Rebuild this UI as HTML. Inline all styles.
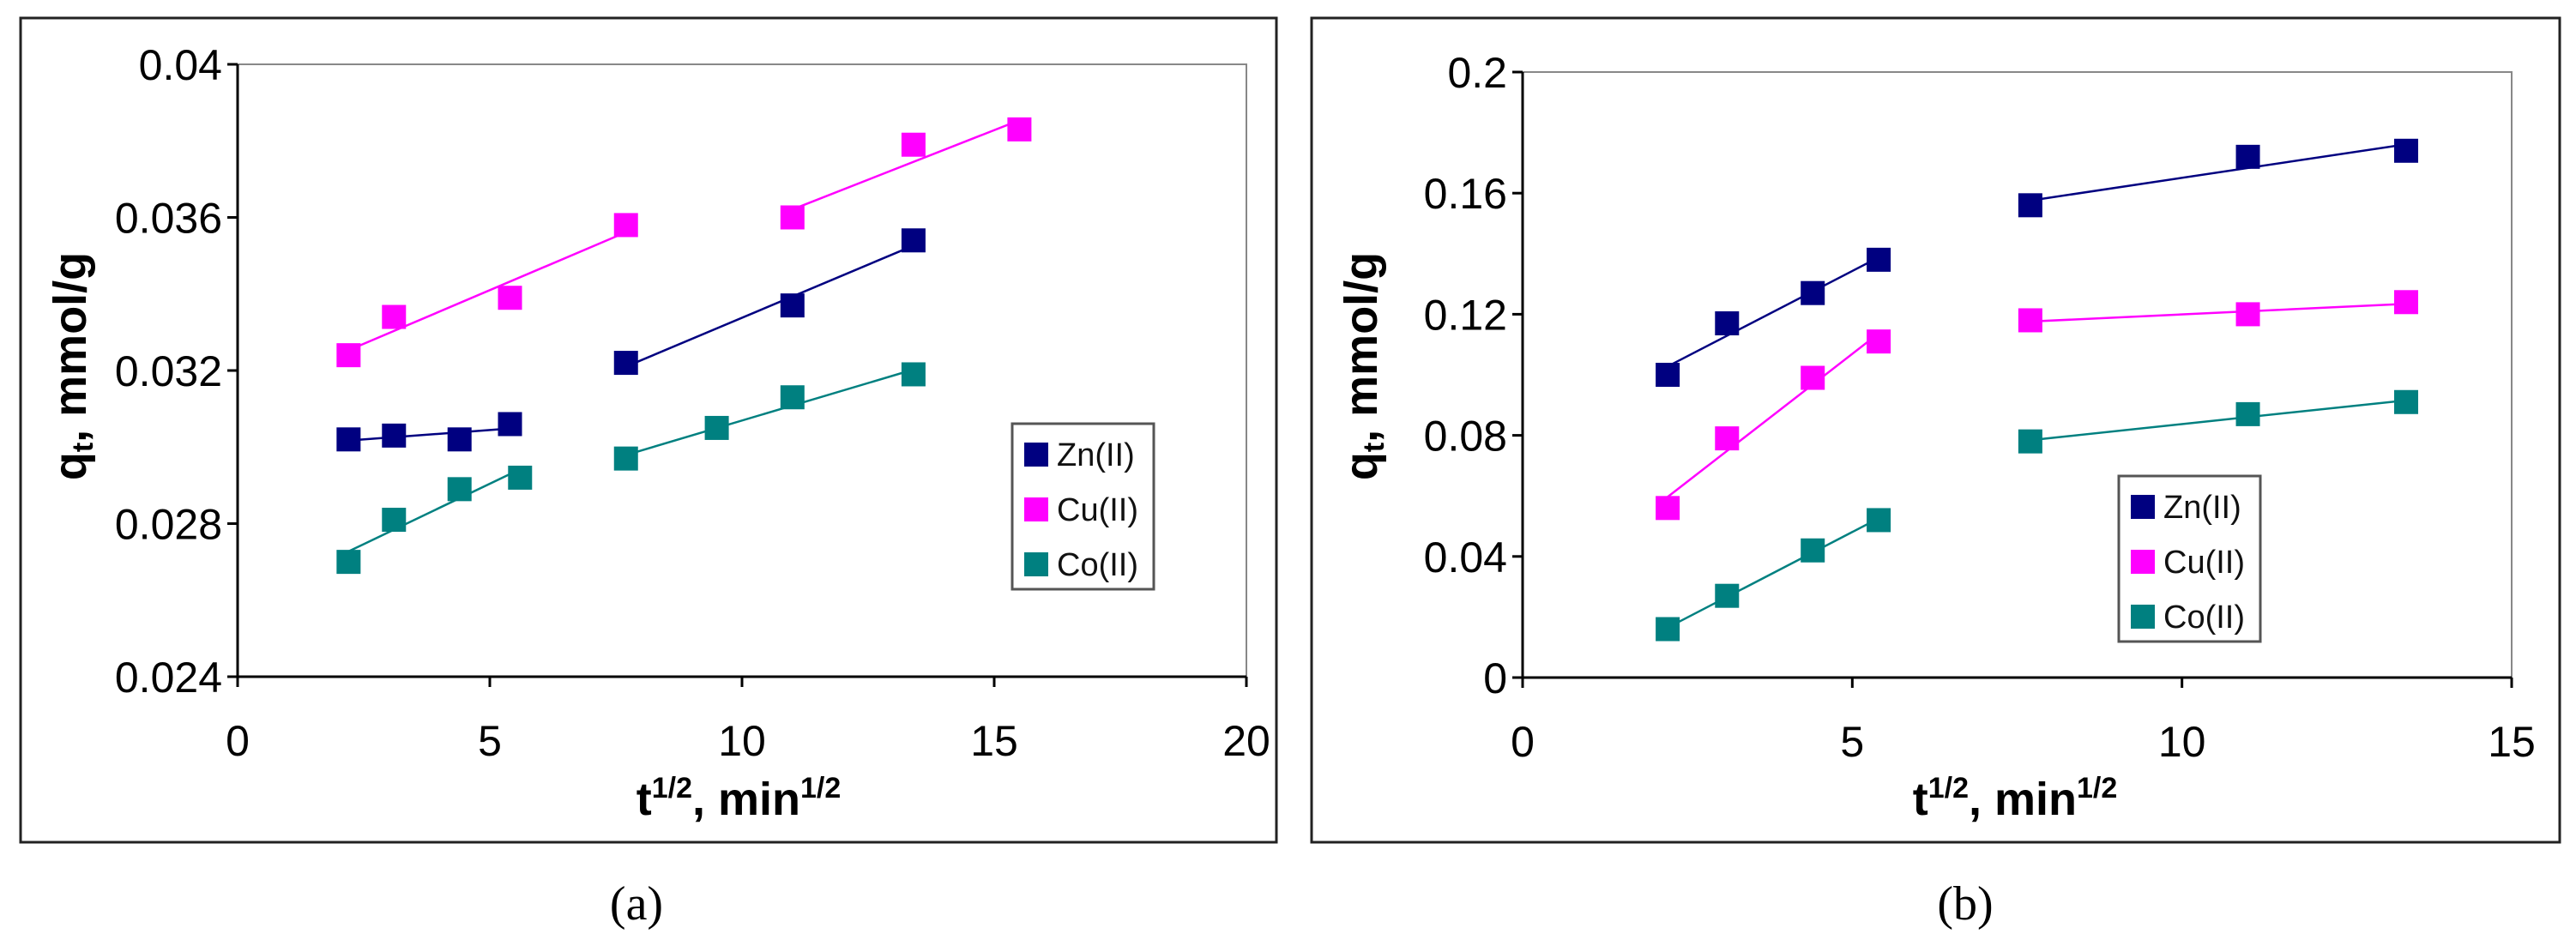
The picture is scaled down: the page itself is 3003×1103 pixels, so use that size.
<!DOCTYPE html>
<html><head><meta charset="utf-8"><style>
html,body{margin:0;padding:0;background:#fff;}
svg{display:block;font-family:"Liberation Sans",sans-serif;}
</style></head><body>
<svg id="svg" width="3003" height="1103" viewBox="0 0 3003 1103" xmlns="http://www.w3.org/2000/svg"></svg>
<script>
const seriesNames=["Zn(II)","Cu(II)","Co(II)"];
const colors=["#000080","#ff00ff","#008080"];
// Panel (a)
const aZnX1=[2.2,3.1,4.4,5.4], aZnY1=[0.0302,0.0303,0.0302,0.0306];
const aZnX2=[7.7,11,13.4], aZnY2=[0.0322,0.0337,0.0354];
const aCuX1=[2.2,3.1,5.4,7.7], aCuY1=[0.0324,0.0334,0.0339,0.0358];
const aCuX2=[11,13.4,15.5], aCuY2=[0.0360,0.0379,0.0383];
const aCoX1=[2.2,3.1,4.4,5.6], aCoY1=[0.0270,0.0281,0.0289,0.0292];
const aCoX2=[7.7,9.5,11,13.4], aCoY2=[0.0297,0.0305,0.0313,0.0319];
const aXTicks=[0,5,10,15,20];
const aYTicks=["0.024","0.028","0.032","0.036","0.04"];
// Panel (b)
const bZnX1=[2.2,3.1,4.4,5.4], bZnY1=[0.100,0.117,0.127,0.138];
const bZnX2=[7.7,11,13.4], bZnY2=[0.156,0.172,0.174];
const bCuX1=[2.2,3.1,4.4,5.4], bCuY1=[0.056,0.079,0.099,0.111];
const bCuX2=[7.7,11,13.4], bCuY2=[0.118,0.120,0.124];
const bCoX1=[2.2,3.1,4.4,5.4], bCoY1=[0.016,0.027,0.042,0.052];
const bCoX2=[7.7,11,13.4], bCoY2=[0.078,0.087,0.091];
const bXTicks=[0,5,10,15];
const bYTicks=["0","0.04","0.08","0.12","0.16","0.2"];

const svg=document.getElementById('svg');
const NS="http://www.w3.org/2000/svg";
function mk(tag,attrs,parent){const e=document.createElementNS(NS,tag);for(const k in attrs)e.setAttribute(k,attrs[k]);(parent||svg).appendChild(e);return e;}
function fit(xs,ys){const n=xs.length;let sx=0,sy=0,sxx=0,sxy=0;for(let i=0;i<n;i++){sx+=xs[i];sy+=ys[i];sxx+=xs[i]*xs[i];sxy+=xs[i]*ys[i];}const m=(n*sxy-sx*sy)/(n*sxx-sx*sx);return [m,(sy-m*sx)/n];}

function panel(P){
  const g=mk('g',{});
  
  
  const fr=mk('rect',{x:P.fx,y:21,width:P.fw,height:961,fill:'none',stroke:'#222','stroke-width':3},g);
  
  
  const X=v=>P.x0+(v-P.xmin)/(P.xmax-P.xmin)*(P.x1-P.x0);
  const Y=v=>P.y0-(v-P.ymin)/(P.ymax-P.ymin)*(P.y0-P.y1);
  const pa=mk('rect',{x:P.x0,y:P.y1,width:P.x1-P.x0,height:P.y0-P.y1,fill:'none',stroke:'#888','stroke-width':2},g);
  
  
  const ax=mk('line',{x1:P.x0,y1:P.y0,x2:P.x1,y2:P.y0,stroke:'#000','stroke-width':3},g);
  
  
  const ay=mk('line',{x1:P.x0,y1:P.y0,x2:P.x0,y2:P.y1,stroke:'#000','stroke-width':3},g);
  
  
  P.xt.forEach(t=>{
    mk('line',{x1:X(t),y1:P.y0,x2:X(t),y2:P.y0+12,stroke:'#000','stroke-width':3},g);
    const tx=mk('text',{x:X(t),y:P.y0+92,'text-anchor':'middle','font-size':50,fill:'#000'},g);
    tx.textContent=t;
    
    
  });
  P.yt.forEach(t=>{
    const v=parseFloat(t);
    mk('line',{x1:P.x0-12,y1:Y(v),x2:P.x0,y2:Y(v),stroke:'#000','stroke-width':3},g);
    const tx=mk('text',{x:P.x0-18,y:Y(v)+18,'text-anchor':'end','font-size':50,fill:'#000'},g);
    tx.textContent=t;
    
    
  });
  P.series.forEach((s,si)=>{
    s.forEach(([xs,ys])=>{
      const [m,b]=fit(xs,ys);
      const xa=xs[0],xb=xs[xs.length-1];
      const ln=mk('line',{x1:X(xa),y1:Y(m*xa+b),x2:X(xb),y2:Y(m*xb+b),stroke:colors[si],'stroke-width':2.5},g);
      
      
      xs.forEach((x,i)=>{
        const r=mk('rect',{x:X(x)-14,y:Y(ys[i])-14,width:28,height:28,fill:colors[si]},g);
        
        
      });
    });
  });
  const xtl=mk('text',{x:P.xtx,y:950,'text-anchor':'middle','font-size':54,'font-weight':'bold',fill:'#000'},g);
  xtl.innerHTML='t<tspan font-size="34" dy="-20">1/2</tspan><tspan dy="20">, min</tspan><tspan font-size="34" dy="-20">1/2</tspan>';
  
  
  const ytl=mk('text',{transform:`translate(${P.ytx},427) rotate(-90)`,'text-anchor':'middle','font-size':54,'font-weight':'bold',fill:'#000'},g);
  ytl.innerHTML='q<tspan font-size="34" dy="8">t</tspan><tspan dy="-8">, mmol/g</tspan>';
  
  
  const lg=mk('g',{},g);
  
  
  mk('rect',{x:P.lx,y:P.ly,width:165,height:193,fill:'#fff',stroke:'#555','stroke-width':3},lg);
  seriesNames.forEach((n,i)=>{
    const cy=P.ly+36+i*64;
    mk('rect',{x:P.lx+14,y:cy-14,width:28,height:28,fill:colors[i]},lg);
    const t=mk('text',{x:P.lx+52,y:cy+13,'font-size':38,fill:'#111'},lg);
    t.textContent=n;
    
    
  });
  const cap=mk('text',{x:P.cx,y:1072,'text-anchor':'middle','font-size':56,'font-family':'Liberation Serif, serif',fill:'#000'},g);
  cap.textContent=P.cap;
  
  
}
panel({name:'panel-a',fx:24,fw:1464,x0:277,x1:1453,y0:789,y1:75,xmin:0,xmax:20,ymin:0.024,ymax:0.04,xt:aXTicks,yt:aYTicks,
  series:[[[aZnX1,aZnY1],[aZnX2,aZnY2]],[[aCuX1,aCuY1],[aCuX2,aCuY2]],[[aCoX1,aCoY1],[aCoX2,aCoY2]]],
  xtx:861,ytx:100,lx:1180,ly:494,cx:742,cap:'(a)'});
panel({name:'panel-b',fx:1529,fw:1455,x0:1775,x1:2928,y0:790,y1:84,xmin:0,xmax:15,ymin:0,ymax:0.2,xt:bXTicks,yt:bYTicks,
  series:[[[bZnX1,bZnY1],[bZnX2,bZnY2]],[[bCuX1,bCuY1],[bCuX2,bCuY2]],[[bCoX1,bCoY1],[bCoX2,bCoY2]]],
  xtx:2349,ytx:1605,lx:2470,ly:555,cx:2291,cap:'(b)'});
</script>
</body></html>
